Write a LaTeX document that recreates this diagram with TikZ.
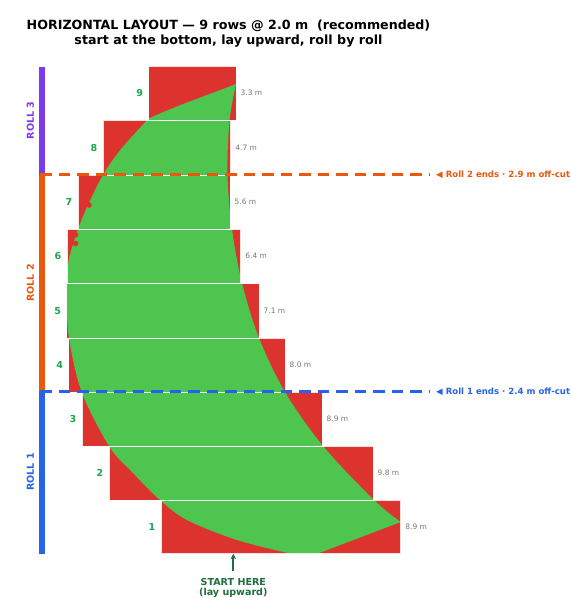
\documentclass[tikz,border=0pt]{standalone}
\usepackage{fontspec}
\setmainfont{DejaVu Sans}
\usetikzlibrary{arrows.meta}
\definecolor{cutred}{HTML}{DD332E}
\definecolor{lawn}{HTML}{4DC54E}
\definecolor{numgreen}{HTML}{1AA64A}
\definecolor{rollpurple}{HTML}{7C3AED}
\definecolor{rollorange}{HTML}{EA580C}
\definecolor{rollblue}{HTML}{2563EB}
\definecolor{lengray}{HTML}{777777}
\definecolor{startgreen}{HTML}{1F6E3D}
\begin{document}
\begin{tikzpicture}[x=1bp,y=-1bp,
  rowedge/.style={draw=white, line width=0.9bp, opacity=0.85},
  numlabel/.style={inner sep=0pt, text=numgreen, font=\fontsize{9.6}{11}\selectfont\bfseries},
  lenlabel/.style={inner sep=0pt, text=lengray, font=\fontsize{7.5}{9}\selectfont},
  rolllabel/.style={inner sep=0pt, rotate=90, font=\fontsize{9.6}{11}\selectfont\bfseries},
  rollbar/.style={line width=6bp},
  endline/.style={line width=2.3bp, dash pattern=on 11.5bp off 7bp},
  endlabel/.style={inner sep=0pt, font=\fontsize{8.6}{10}\selectfont\bfseries},
  titlefont/.style={inner sep=0pt, font=\fontsize{12.7}{15}\selectfont\bfseries}]
\useasboundingbox[fill=white] (0,0) rectangle (571,598);

% title
\node[titlefont, anchor=base] (title1) at (228.5,29.3) {HORIZONTAL LAYOUT — 9 rows @ 2.0 m\ \ (recommended)};
\node[titlefont, anchor=base] (title2) at (228.5,45) {start at the bottom, lay upward, roll by roll};

% red row rectangles
\foreach \n/\lx/\rx/\ty/\by/\len in {1/161/400.7/500/553.5/8.9, 2/109/373/446/500/9.8, 3/82/322/392/446/8.9, 4/68.7/285/338/392/8.0, 5/66.7/259/283.5/338/7.1, 6/67/240.7/229/283.5/6.4, 7/78/230/175/229/5.6, 8/103/230.7/120.5/175/4.7, 9/148.7/236/66/120.5/3.3}{
  \fill[cutred] (\lx,\ty) rectangle (\rx,\by);
}

% green lawn shape, clipped to the rows
\begin{scope}
\clip (161,500) rectangle (400.7,553.5) (109,446) rectangle (373,500)
      (82,392) rectangle (322,446) (68.7,338) rectangle (285,392)
      (66.7,283.5) rectangle (259,338) (67,229) rectangle (240.7,283.5)
      (78,175) rectangle (230,229) (103,120.5) rectangle (230.7,175)
      (148.7,66) rectangle (236,120.5);
\fill[lawn] plot[smooth, tension=0.55] coordinates {(236,84) (229.5,121) (227.5,175) (232,229) (242,283) (259,338) (285,392) (323,446) (374,500) (400.7,522)}
  -- (318,553.5) -- (290,553.5)
  -- plot[smooth, tension=0.55] coordinates {(290,553.5) (237,540) (187,520) (160,500) (131,471) (109,446) (81.7,392) (69,338) (66.8,300) (68,265) (72.5,246) (78,229) (88,205) (103,175) (121,149) (148.7,118.5)}
  .. controls (178,105) and (208,95) .. (236,84) -- cycle;
\fill[cutred] (89,205) circle[radius=2.8bp] (75.5,235) circle[radius=2.8bp] (75.5,243.5) circle[radius=2.8bp];
\end{scope}

% outlines and labels
\foreach \n/\lx/\rx/\ty/\by/\len in {1/161/400.7/500/553.5/8.9, 2/109/373/446/500/9.8, 3/82/322/392/446/8.9, 4/68.7/285/338/392/8.0, 5/66.7/259/283.5/338/7.1, 6/67/240.7/229/283.5/6.4, 7/78/230/175/229/5.6, 8/103/230.7/120.5/175/4.7, 9/148.7/236/66/120.5/3.3}{
  \draw[rowedge] (\lx,\ty) rectangle (\rx,\by);
  \node[numlabel, anchor=base east] (num\n) at ({\lx-5.5},{(\ty+\by)/2+3.5}) {\n};
  \node[lenlabel, anchor=base west] (len\n) at ({\rx+4.5},{(\ty+\by)/2+2.7}) {\len\ m};
}

% roll bars
\coordinate (b3top) at (41.7,66.7);
\coordinate (b3bot) at (41.7,174.5);
\coordinate (b2bot) at (41.7,391);
\coordinate (b1bot) at (41.7,553.5);
\draw[rollbar, rollpurple] (b3top) -- (b3bot);
\draw[rollbar, rollorange] (b3bot) -- (b2bot);
\draw[rollbar, rollblue] (b2bot) -- (b1bot);
\node[rolllabel, text=rollpurple] (roll3) at (30.5,120.5) {ROLL 3};
\node[rolllabel, text=rollorange] (roll2) at (30.5,283) {ROLL 2};
\node[rolllabel, text=rollblue] (roll1) at (30.5,472) {ROLL 1};

% roll end lines
\coordinate (e2a) at (40,174.5);
\coordinate (e2b) at (429,174.5);
\coordinate (e1a) at (40,391.5);
\coordinate (e1b) at (429,391.5);
\draw[endline, rollorange] (e2a) -- (e2b);
\draw[endline, rollblue] (e1a) -- (e1b);
\node[endlabel, text=rollorange, anchor=base west] (end2) at (436,177.6) {◀ Roll 2 ends · 2.9 m off-cut};
\node[endlabel, text=rollblue, anchor=base west] (end1) at (436,394.6) {◀ Roll 1 ends · 2.4 m off-cut};

% start here
\node[inner sep=0pt, anchor=base, text=startgreen, font=\fontsize{9.6}{11}\selectfont\bfseries] (start1) at (233.3,585.5) {START HERE};
\node[inner sep=0pt, anchor=base, text=startgreen, font=\fontsize{9.6}{11}\selectfont\bfseries] (start2) at (233.3,595.5) {(lay upward)};
\coordinate (arrfoot) at (233.3,571);
\coordinate (arrtip) at (233.3,553.8);
\draw[startgreen, line width=2bp, -{Stealth[length=5.5bp, width=5.5bp]}] (arrfoot) -- (arrtip);
\end{tikzpicture}
\end{document}
